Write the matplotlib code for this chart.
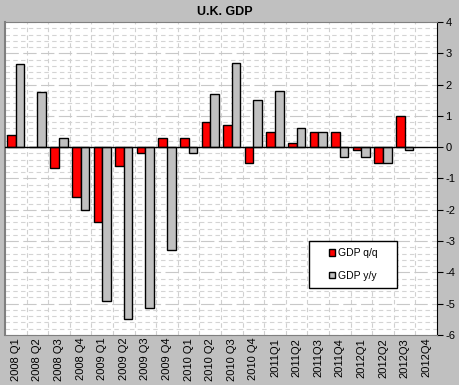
import numpy as np
from matplotlib import pyplot as plt
from matplotlib.patches import Rectangle
from matplotlib.ticker import MultipleLocator

plt.rcParams["font.family"] = ["Liberation Sans", "DejaVu Sans"]
plt.rcParams["axes.unicode_minus"] = False

quarters = ["2008 Q1", "2008 Q2", "2008 Q3", "2008 Q4",
            "2009 Q1", "2009 Q2", "2009 Q3", "2009 Q4",
            "2010 Q1", "2010 Q2", "2010 Q3", "2010 Q4",
            "2011Q1", "2011Q2", "2011Q3", "2011Q4",
            "2012Q1", "2012Q2", "2012Q3", "2012Q4"]
gdp_qq = [0.4, 0.02, -0.65, -1.6, -2.4, -0.6, -0.2, 0.3, 0.3, 0.8,
          0.7, -0.5, 0.5, 0.12, 0.5, 0.5, -0.1, -0.5, 1.0, np.nan]
gdp_yy = [2.65, 1.75, 0.3, -2.0, -4.9, -5.5, -5.15, -3.3, -0.2, 1.7,
          2.7, 1.5, 1.8, 0.6, 0.5, -0.3, -0.3, -0.5, -0.1, np.nan]

BG = "#c0c0c0"
RED = "#ff0000"
GREY = "#c0c0c0"

fig = plt.figure(figsize=(4.6, 3.85), dpi=100, facecolor=BG)
ax = fig.add_axes([5 / 460, 50 / 385, 432 / 460, 313 / 385])
ax.set_facecolor("white")

x = np.arange(len(quarters))
ax.bar(x - 0.2, gdp_qq, width=0.4, color=RED, edgecolor="black",
       linewidth=1, label="GDP q/q", zorder=3)
ax.bar(x + 0.2, gdp_yy, width=0.4, color=GREY, edgecolor="black",
       linewidth=1, label="GDP y/y", zorder=3)

ax.set_xlim(-0.5, len(quarters) - 0.5)
ax.set_ylim(-6, 4)
ax.axhline(0, color="black", linewidth=1, zorder=4)

# grid
ax.yaxis.set_major_locator(MultipleLocator(1))
ax.yaxis.set_minor_locator(MultipleLocator(0.2))
ax.grid(True, which="major", axis="y", color="#c8c8c8", linestyle=(0, (12, 4)), linewidth=0.8, zorder=0)
ax.grid(True, which="minor", axis="y", color="#d4d4d4", linestyle=(0, (4, 3)), linewidth=0.8, zorder=0)
for b in x[:-1] + 0.5:
    ax.axvline(b, color="#d0d0d0", linestyle=(0, (4, 3)), linewidth=0.8, zorder=0)

ax.yaxis.tick_right()
ax.tick_params(axis="y", which="minor", length=0)
ax.tick_params(axis="y", which="major", length=4, labelsize=8, pad=2)
ax.set_xticks(x)
ax.set_xticklabels(quarters, rotation=90, fontsize=8)
ax.tick_params(axis="x", length=0, pad=2)

for side in ("top", "left", "bottom"):
    ax.spines[side].set_color("#808080")
ax.spines["left"].set_linewidth(1.5)
ax.spines["right"].set_color("black")

fig.text(225 / 460, 1 - 12 / 385, "U.K. GDP", ha="center", va="center",
         fontsize=9, fontweight="bold")

# legend box
ax.add_patch(Rectangle((304 / 432, 47 / 313), 88 / 432, 47 / 313,
                       transform=ax.transAxes, facecolor="white",
                       edgecolor="black", linewidth=1, zorder=5))
leg = ax.legend(loc="center", bbox_to_anchor=(348 / 432, 70.5 / 313),
                fontsize=7.5, frameon=False, handlelength=0.6, handleheight=0.6,
                labelspacing=1.2, borderpad=0, handletextpad=0.3, borderaxespad=0)
leg.set_zorder(6)

fig.savefig("out.png", dpi=100, facecolor=BG)
